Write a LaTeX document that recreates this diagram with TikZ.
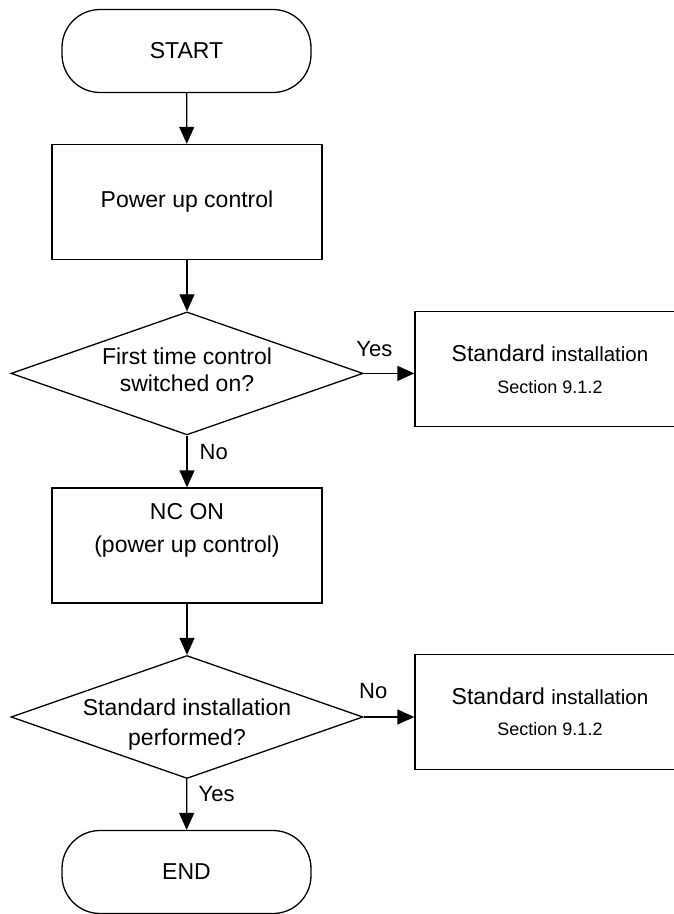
\documentclass[tikz,border=0pt]{standalone}
\usepackage{fontspec}
\setmainfont{Liberation Sans}
\usetikzlibrary{shapes.geometric, arrows.meta}

\begin{document}
\begin{tikzpicture}[x=1pt, y=-1pt,
  every node/.style={font=\fontsize{23}{30}\selectfont},
  termbox/.style={draw, rounded corners=38pt, minimum width=249pt, minimum height=83pt, line width=1.3pt},
  procbox/.style={draw, minimum width=270pt, minimum height=115pt, align=center, line width=1.3pt},
  decbox/.style={draw, diamond, minimum width=352pt, minimum height=123pt, inner sep=0pt, line width=1.3pt},
  dectext/.style={align=center},
  flow/.style={-{Triangle[length=17pt, width=15pt]}, line width=1.3pt},
  lbl/.style={font=\fontsize{22}{26}\selectfont}
]
  \clip (0,0) rectangle (674,914);

  \node[termbox] (start) at (186.5,51) {START};
  \node[procbox] (power) at (187,202) {Power up control};
  \node[decbox, label={[dectext, yshift=4pt]center:{First time control\\[-3pt]switched on?}}] (first) at (187,373.4) {};
  \node[procbox] (inst1) at (550,369) {Standard {\fontsize{20.5}{24}\selectfont installation}\\[1.5pt]{\fontsize{18}{22}\selectfont Section 9.1.2}};
  \node[procbox, text depth=36pt] (ncon) at (187,545.5) {NC ON\\[3pt](power up control)};
  \node[decbox, label={[dectext, yshift=-8pt]center:{Standard installation\\performed?}}] (done) at (187,717) {};
  \node[procbox] (inst2) at (550,711.7) {Standard {\fontsize{20.5}{24}\selectfont installation}\\[1.5pt]{\fontsize{18}{22}\selectfont Section 9.1.2}};
  \node[termbox] (end) at (186.5,872) {END};

  \draw[flow] (start) -- (power);
  \draw[flow] (power) -- (first);
  \draw[flow] (first.east) -- (first.east -| inst1.west) node[lbl, pos=0.21, above=13pt] {Yes};
  \draw[flow] (first) -- (ncon) node[lbl, pos=0.32, right=8.7pt] {No};
  \draw[flow] (ncon) -- (done);
  \draw[flow] (done.east) -- (done.east -| inst2.west) node[lbl, pos=0.19, above=14.5pt] {No};
  \draw[flow] (done) -- (end) node[lbl, pos=0.3, right=8pt] {Yes};
\end{tikzpicture}
\end{document}
